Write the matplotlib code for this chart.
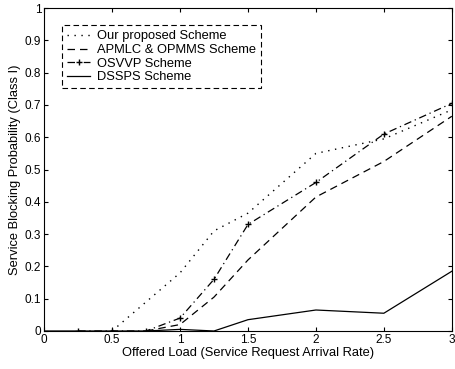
import matplotlib
matplotlib.use("Agg")
import matplotlib.pyplot as plt

plt.rcParams["font.family"] = ["Liberation Sans", "DejaVu Sans"]

# Offered load values and blocking probabilities
x_prop = [0.5, 0.75, 1.0, 1.25, 1.5, 2.0, 2.5, 3.0]
y_prop = [0.0, 0.09, 0.18, 0.31, 0.365, 0.55, 0.595, 0.685]

x_apmlc = [0.75, 1.0, 1.25, 1.5, 2.0, 2.5, 3.0]
y_apmlc = [0.0, 0.02, 0.105, 0.22, 0.415, 0.525, 0.665]

x_osvvp = [0.25, 0.5, 0.75, 1.0, 1.25, 1.5, 2.0, 2.5, 3.0]
y_osvvp = [0.0, 0.0, 0.0, 0.04, 0.16, 0.33, 0.46, 0.61, 0.705]

x_dssps = [0.0, 0.75, 1.0, 1.25, 1.5, 2.0, 2.5, 3.0]
y_dssps = [0.0, 0.0, 0.005, 0.0, 0.035, 0.065, 0.055, 0.185]

labels = ["Our proposed Scheme", "APMLC & OPMMS Scheme", "OSVVP Scheme", "DSSPS Scheme"]

fig = plt.figure(figsize=(4.55, 3.69), dpi=100)
ax = fig.add_axes([0.097, 0.103, 0.896, 0.875])

ax.plot(x_prop, y_prop, color="black", linestyle=(0, (1, 4)), linewidth=1.0, label=labels[0])
ax.plot(x_apmlc, y_apmlc, color="black", linestyle=(0, (6, 4)), linewidth=0.9, label=labels[1])
ax.plot(x_osvvp, y_osvvp, color="black", linestyle=(0, (6, 3, 1, 3)), linewidth=0.9,
        marker="+", markersize=5, label=labels[2])
ax.plot(x_dssps, y_dssps, color="black", linestyle="-", linewidth=0.9, label=labels[3])

ax.set_xlim(0, 3)
ax.set_ylim(0, 1)
ax.set_xticks([0, 0.5, 1, 1.5, 2, 2.5, 3])
ax.set_xticklabels(["0", "0.5", "1", "1.5", "2", "2.5", "3"])
ax.set_yticks([i / 10 for i in range(11)])
ax.set_yticklabels(["0", "0.1", "0.2", "0.3", "0.4", "0.5", "0.6", "0.7", "0.8", "0.9", "1"])
ax.tick_params(direction="in", top=True, right=True, labelsize=8.5, length=3, pad=2)
for s in ax.spines.values():
    s.set_linewidth(0.8)

ax.set_xlabel("Offered Load (Service Request Arrival Rate)", fontsize=9.3, labelpad=1)
ax.set_ylabel("Service Blocking Probability (Class I)", fontsize=9.3, labelpad=3)

leg = ax.legend(loc="upper left", bbox_to_anchor=(0.044, 0.947), fontsize=9.3, handlelength=1.8,
                handletextpad=0.5, labelspacing=0.12, borderpad=0.4, borderaxespad=0,
                fancybox=False, framealpha=1, edgecolor="black")
leg.get_frame().set_linestyle((0, (5, 3)))
leg.get_frame().set_linewidth(0.8)

fig.savefig("out.png", dpi=100)
